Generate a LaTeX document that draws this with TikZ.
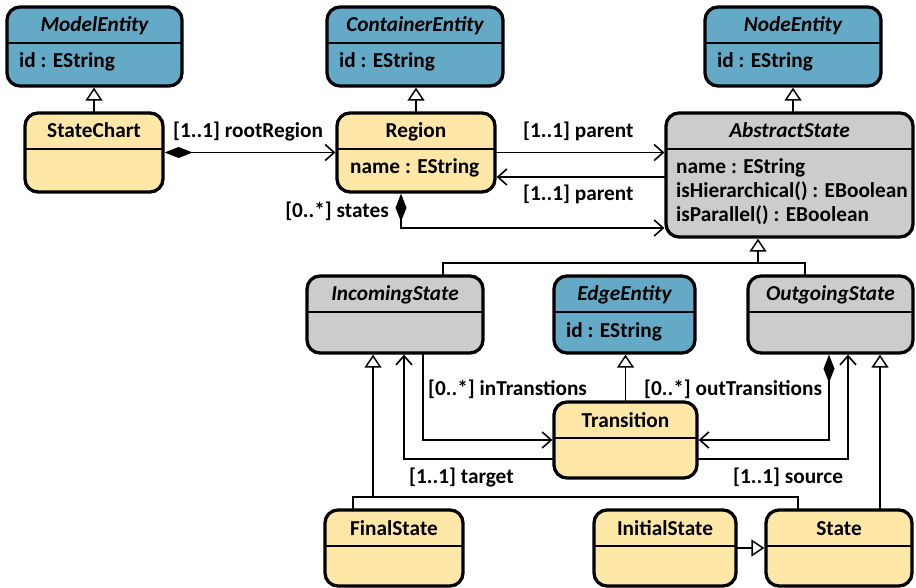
\documentclass[tikz,border=0pt]{standalone}
\usepackage{fontspec}
\setmainfont{Carlito}
\usetikzlibrary{arrows.meta,calc}

\definecolor{entityblue}{HTML}{64A9C5}
\definecolor{classyellow}{HTML}{FFE7A8}
\definecolor{abstractgray}{HTML}{CCCCCC}

\newcommand\diagfont{\fontsize{21.3}{24}\selectfont\bfseries}

\tikzset{
  classbox/.style={draw, line width=3.3pt, rounded corners=13pt, inner sep=0pt, outer sep=0pt},
  sepline/.style={line width=2pt},
  plaintitle/.style={font=\diagfont, inner sep=0pt, anchor=base},
  italictitle/.style={font=\diagfont\itshape, inner sep=0pt, anchor=base},
  attrtext/.style={font=\diagfont, inner sep=0pt, anchor=base west},
  assoclabel/.style={font=\diagfont, inner sep=0pt, anchor=base west},
  conn/.style={line width=1.6pt},
  gen/.style={conn, -{Triangle[open, length=13pt, width=17pt, line width=1.5pt, fill=white]}, shorten >=1.65pt},
  assoc/.style={conn, -{Straight Barb[length=9pt, width=16pt, line width=1.6pt]}, shorten >=1.65pt},
  comp/.style={conn, {Diamond[length=28pt, width=11pt]}-{Straight Barb[length=9pt, width=16pt, line width=1.6pt]}, shorten <=1.65pt, shorten >=1.65pt},
}

% #1 name, #2 fill, #3 title style, #4 left, #5 top, #6 right, #7 bottom, #8 title
\newcommand\umlclass[8]{%
  \node[classbox, fill=#2, minimum width={#6-#4}, minimum height={#7-#5}] (#1) at ({(#4+#6)/2},{(#5+#7)/2}) {};
  \draw[sepline] ($(#1.north west)+(0,36)$) -- ($(#1.north east)+(0,36)$);
  \node[#3] (#1-title) at ($(#1.north)+(0,25)$) {#8};
}

\begin{document}
\begin{tikzpicture}[x=1pt, y=-1pt]
\useasboundingbox (0,0) rectangle (916,588);
\fill[white] (0,0) rectangle (916,588);

% classes
\umlclass{ModelEntity}{entityblue}{italictitle}{7}{7}{182}{86}{ModelEntity}
\umlclass{ContainerEntity}{entityblue}{italictitle}{327}{7}{503}{86}{ContainerEntity}
\umlclass{NodeEntity}{entityblue}{italictitle}{705}{7}{881}{86}{NodeEntity}
\umlclass{StateChart}{classyellow}{plaintitle}{25}{113}{163}{192}{StateChart}
\umlclass{Region}{classyellow}{plaintitle}{337}{113}{495}{192}{Region}
\umlclass{AbstractState}{abstractgray}{italictitle}{666}{113}{913}{237}{AbstractState}
\umlclass{IncomingState}{abstractgray}{italictitle}{307}{276}{483}{353}{IncomingState}
\umlclass{EdgeEntity}{entityblue}{italictitle}{554}{276}{695}{353}{EdgeEntity}
\umlclass{OutgoingState}{abstractgray}{italictitle}{748}{276}{913}{353}{OutgoingState}
\umlclass{Transition}{classyellow}{plaintitle}{554}{402}{697}{478}{Transition}
\umlclass{FinalState}{classyellow}{plaintitle}{325}{510}{463}{586}{FinalState}
\umlclass{InitialState}{classyellow}{plaintitle}{594}{510}{736}{586}{InitialState}
\umlclass{State}{classyellow}{plaintitle}{766}{510}{912}{586}{State}

% attributes
\node[attrtext] (ModelEntity-a) at ($(ModelEntity.north west)+(12,61)$) {id : EString};
\node[attrtext] (ContainerEntity-a) at ($(ContainerEntity.north west)+(12,61)$) {id : EString};
\node[attrtext] (NodeEntity-a) at ($(NodeEntity.north west)+(12,61)$) {id : EString};
\node[attrtext] (EdgeEntity-a) at ($(EdgeEntity.north west)+(12,61)$) {id : EString};
\node[attrtext] (Region-a) at ($(Region.north west)+(13,61)$) {name : EString};
\node[attrtext] (AbstractState-a1) at ($(AbstractState.north west)+(10,61)$) {name : EString};
\node[attrtext] (AbstractState-a2) at ($(AbstractState.north west)+(10,85)$) {isHierarchical() : EBoolean};
\node[attrtext] (AbstractState-a3) at ($(AbstractState.north west)+(10,109)$) {isParallel() : EBoolean};

% helper coordinates for connector routing
\coordinate (y177) at (0,177);
\coordinate (y228) at (0,228);
\coordinate (y440) at (0,440);
\coordinate (y459) at (0,459);
\coordinate (y548) at (0,548);
\coordinate (x353) at (353,0);
\coordinate (x401) at (401,0);
\coordinate (x404) at (404,0);
\coordinate (x423) at (423,0);
\coordinate (x443) at (443,0);
\coordinate (x798) at (798,0);
\coordinate (x805) at (805,0);
\coordinate (x829) at (829,0);
\coordinate (x848) at (848,0);
\coordinate (x880) at (880,0);
\coordinate (genA) at (758,263);
\coordinate (genB) at (373,497);

% generalizations
\draw[gen] (StateChart.north) -- (StateChart.north |- ModelEntity.south);
\draw[gen] (Region.north) -- (Region.north |- ContainerEntity.south);
\draw[gen] (NodeEntity.south |- AbstractState.north) -- (NodeEntity.south);
\draw[conn] (IncomingState.north -| x443) |- (genA) -| (OutgoingState.north -| x805);
\draw[gen] (genA) -- (AbstractState.south -| genA);
\draw[gen] (Transition.north) -- (Transition.north |- EdgeEntity.south);
\draw[conn] (FinalState.north -| x353) |- (genB) -| (State.north -| x798);
\draw[gen] (genB) -- (IncomingState.south -| genB);
\draw[gen] (State.north -| x880) -- (OutgoingState.south -| x880);
\draw[gen] (InitialState.east |- y548) -- (State.west |- y548);

% associations
\draw[comp] (StateChart.east) -- (Region.west);
\draw[assoc] (Region.east) -- (Region.east -| AbstractState.west);
\draw[assoc] (AbstractState.west |- y177) -- (Region.east |- y177);
\draw[comp] (Region.south -| x401) |- (AbstractState.west |- y228);
\draw[assoc] (IncomingState.south -| x423) |- (Transition.west |- y440);
\draw[assoc] (Transition.west |- y459) -| (IncomingState.south -| x404);
\draw[comp] (OutgoingState.south -| x829) |- (Transition.east |- y440);
\draw[assoc] (Transition.east |- y459) -| (OutgoingState.south -| x848);

% association labels
\node[assoclabel] (lblRoot) at (173,138) {[1..1] rootRegion};
\node[assoclabel] (lblParentA) at (523,138) {[1..1] parent};
\node[assoclabel] (lblParentB) at (523,201) {[1..1] parent};
\node[assoclabel, anchor=base east] (lblStates) at (389,218) {[0..*] states};
\node[assoclabel] (lblIn) at (428,395) {[0..*] inTranstions};
\node[assoclabel] (lblOut) at (644,395) {[0..*] outTransitions};
\node[assoclabel] (lblTarget) at (409,483) {[1..1] target};
\node[assoclabel] (lblSource) at (733,483) {[1..1] source};
\end{tikzpicture}
\end{document}
